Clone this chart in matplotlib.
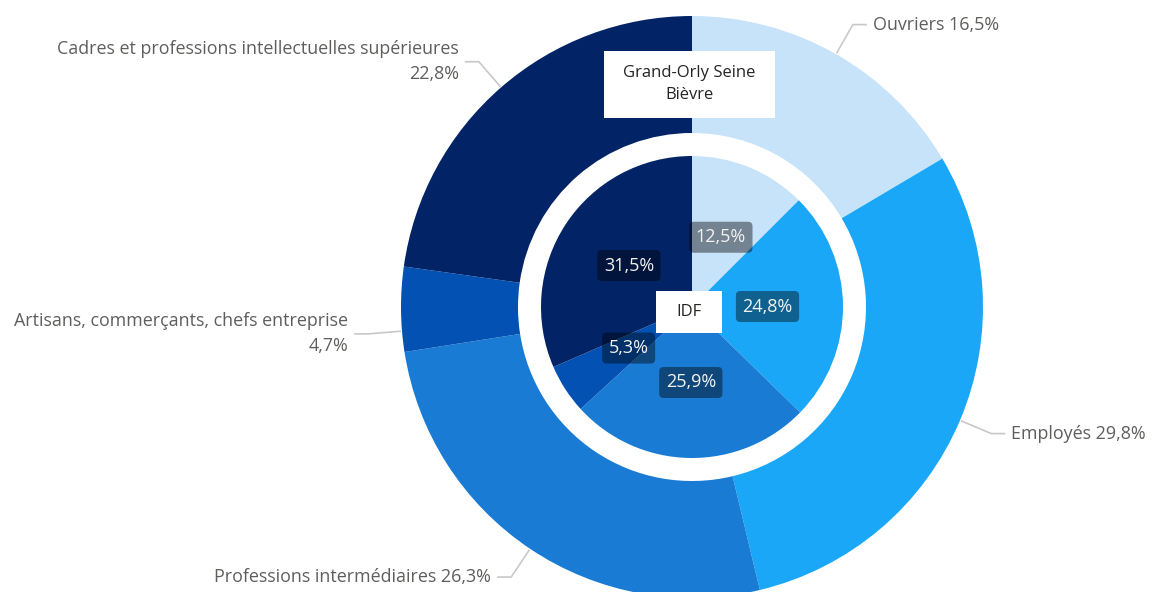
import matplotlib as mpl
import numpy as np
mpl.rcParams.update({'font.family': ['Open Sans', 'DejaVu Sans'], 'font.size': 12})
from matplotlib import pyplot as plt
from matplotlib.patches import Rectangle

categories = ["Ouvriers", "Employés", "Professions intermédiaires",
              "Artisans, commerçants, chefs entreprise",
              "Cadres et professions intellectuelles supérieures"]
gosb = [16.5, 29.8, 26.3, 4.7, 22.8]   # outer ring: Grand-Orly Seine Bièvre
idf = [12.5, 24.8, 25.9, 5.3, 31.5]    # inner pie: IDF
colors = ['#c7e3fa', '#1aa7f8', '#1a7bd5', '#0351b3', '#022466']
label_sep = [' ', ' ', ' ', '\n', '\n']
outer_title = "Grand-Orly Seine\nBièvre"
inner_title = "IDF"

W, H = 1152, 592
CX, CY = 692, H - 307
R_OUT, R_HOLE, R_IN = 291, 174, 151
R_ELBOW = 325
nudge = [0, 0, 0, 4.3, 0]   # leader anchor shift (deg)
TXT = '#605e5c'


def fmt(v):
    return f"{v:.1f}%".replace('.', ',')


fig = plt.figure(figsize=(W / 100, H / 100), dpi=100)
ax = fig.add_axes([0, 0, 1, 1])

wedges, _ = ax.pie(gosb, colors=colors, radius=R_OUT, center=(CX, CY),
                   startangle=90, counterclock=False, frame=True,
                   wedgeprops=dict(width=R_OUT - R_HOLE, linewidth=0))
_, in_txt = ax.pie(idf, colors=colors, radius=R_IN, center=(CX, CY),
                   startangle=90, counterclock=False, frame=True,
                   labels=[fmt(v) for v in idf], labeldistance=0.5,
                   textprops=dict(color='#f2f2f2', fontsize=13),
                   wedgeprops=dict(linewidth=0))
for t in in_txt:
    t.set_ha('center')
    t.set_va('center')
    t.set_bbox(dict(boxstyle='round,pad=0.36,rounding_size=0.25',
                    fc='black', alpha=0.42, ec='none'))

# outer labels with leader lines
for i, w in enumerate(wedges):
    ang = np.deg2rad((w.theta1 + w.theta2) / 2 + nudge[i])
    ax0, ay0 = CX + (R_OUT + 1) * np.cos(ang), CY + (R_OUT + 1) * np.sin(ang)
    ex, ey = CX + R_ELBOW * np.cos(ang), CY + R_ELBOW * np.sin(ang)
    side = 1 if np.cos(ang) > 0 else -1
    hx = ex + side * 14
    ax.plot([ax0, ex, hx], [ay0, ey, ey], color='#c8c8c8', lw=1.2,
            solid_capstyle='butt')
    ax.text(hx + side * 6, ey, categories[i] + label_sep[i] + fmt(gosb[i]),
            ha='left' if side > 0 else 'right', va='center',
            multialignment='left' if side > 0 else 'right',
            color=TXT, fontsize=12.9, linespacing=1.5)

# title boxes
ax.add_patch(Rectangle((604, H - 118), 171, 67, fc='white', ec='none', zorder=5))
ax.text(689.5, H - 84, outer_title, ha='center', va='center', color='#252423',
        fontsize=12, linespacing=1.45, zorder=6)
ax.add_patch(Rectangle((656, H - 333), 66, 42, fc='white', ec='none', zorder=5))
ax.text(689, H - 312, inner_title, ha='center', va='center', color='#252423',
        fontsize=12, zorder=6)

ax.set_xlim(0, W)
ax.set_ylim(0, H)
ax.set_aspect('auto')
ax.axis('off')
fig.savefig('out.png', dpi=100)
